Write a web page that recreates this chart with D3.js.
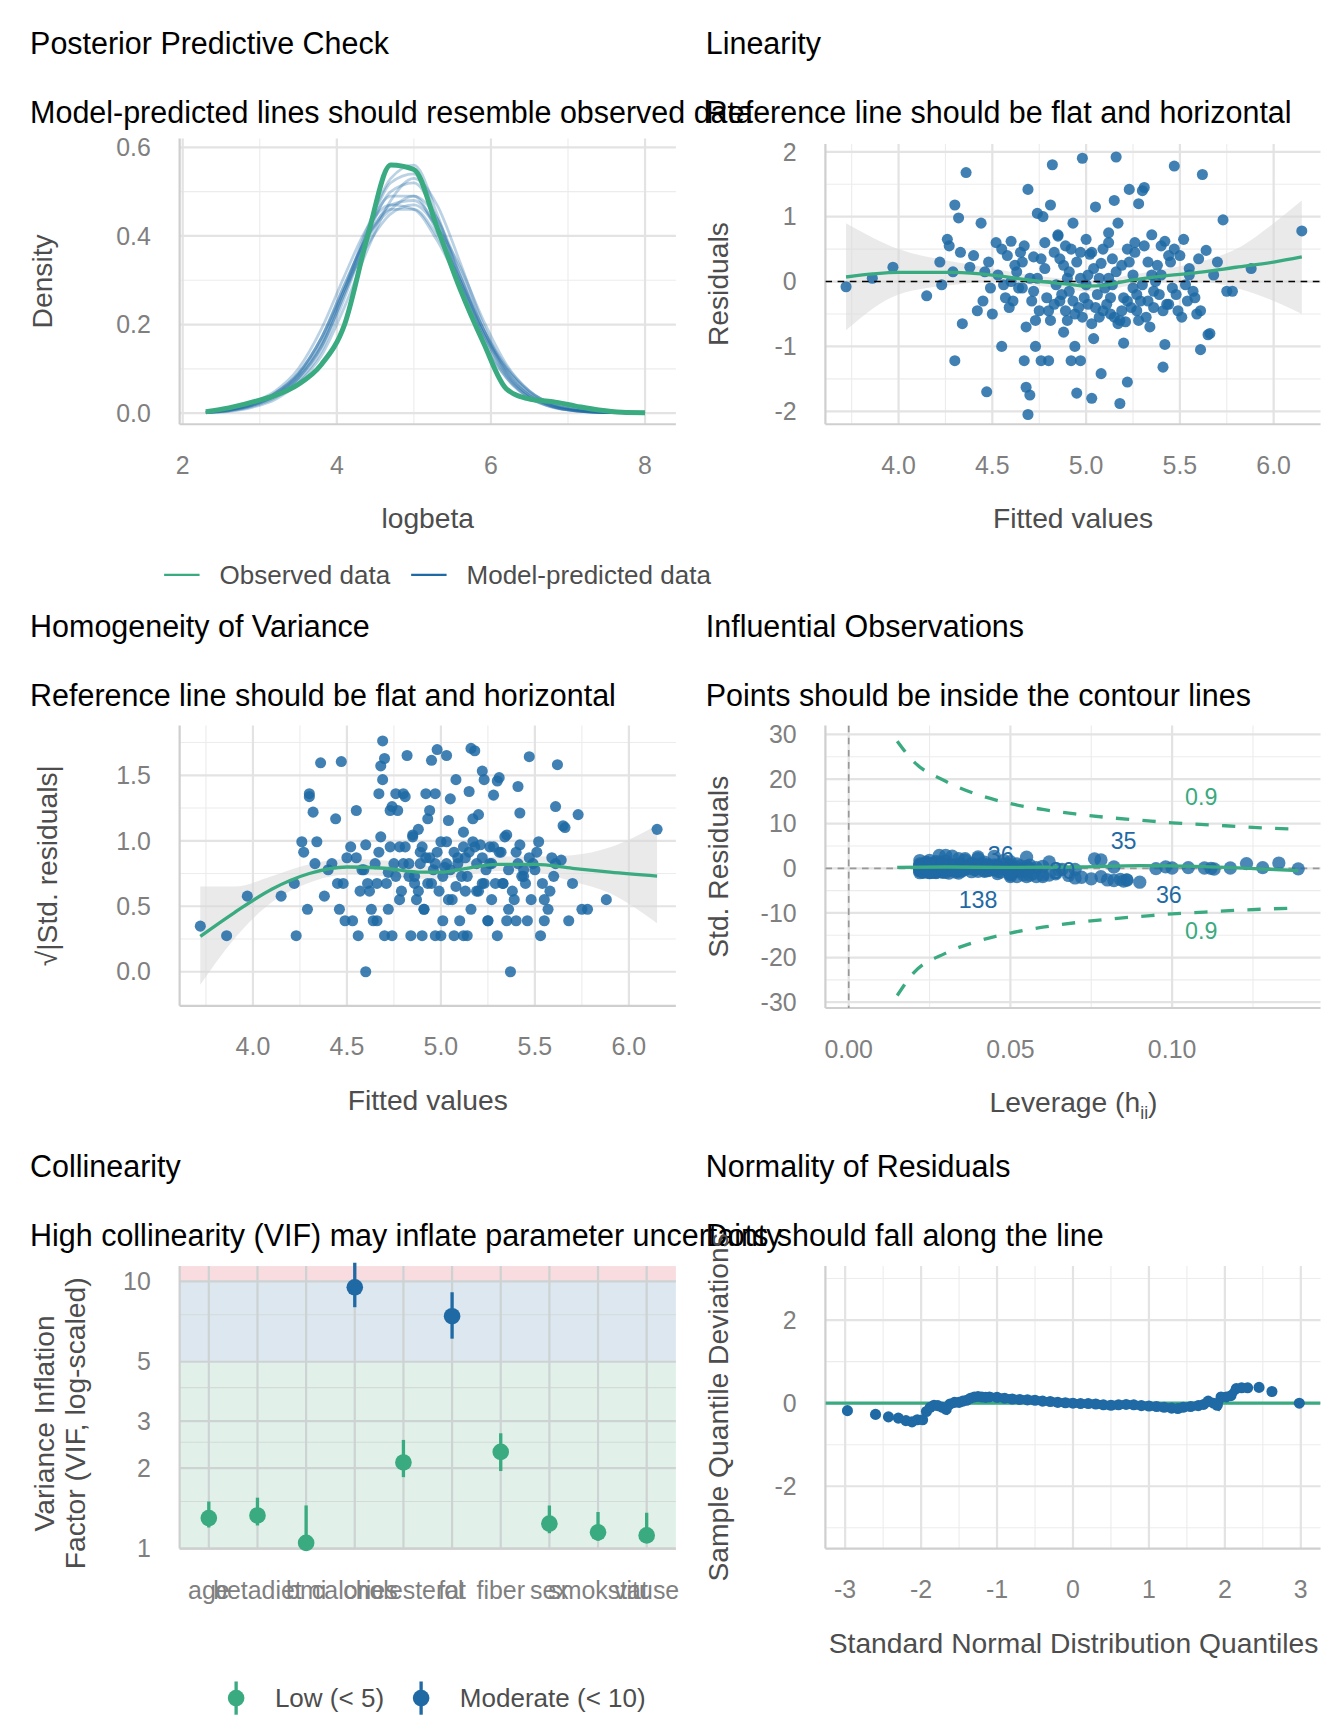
<!DOCTYPE html>
<html><head><meta charset="utf-8">
<script src="https://cdn.jsdelivr.net/npm/d3@7"></script>
<style>body{margin:0;background:#fff}text{font-family:"Liberation Sans",Arial,sans-serif}</style>
</head><body><div class="chart"></div>
<script>
// ---- data ----
const ppcX = [2.3,2.6,2.9,3.2,3.5,3.8,4.1,4.4,4.7,5.0,5.3,5.6,5.9,6.2,6.5,6.8,7.1,7.4,7.7,8.0];
const ppcObserved = [0.003,0.012,0.025,0.04,0.065,0.11,0.2,0.4,0.56,0.55,0.42,0.28,0.16,0.055,0.032,0.026,0.016,0.007,0.002,0.001];
const ppcPredicted = [
  [0.002,0.007,0.018,0.04,0.08,0.15,0.27,0.39,0.47,0.48,0.42,0.31,0.19,0.1,0.045,0.018,0.007,0.002,0.001,0],
  [0.003,0.009,0.022,0.046,0.09,0.17,0.29,0.4,0.46,0.46,0.4,0.3,0.19,0.105,0.05,0.02,0.008,0.003,0.001,0],
  [0.001,0.005,0.015,0.035,0.072,0.14,0.26,0.4,0.5,0.52,0.44,0.31,0.18,0.085,0.035,0.014,0.005,0.002,0.001,0],
  [0.002,0.008,0.02,0.045,0.09,0.17,0.28,0.38,0.45,0.47,0.42,0.33,0.21,0.11,0.05,0.02,0.008,0.002,0.001,0],
  [0.002,0.006,0.018,0.038,0.078,0.15,0.27,0.41,0.52,0.54,0.43,0.29,0.16,0.08,0.035,0.014,0.005,0.002,0.001,0],
  [0.003,0.01,0.024,0.05,0.1,0.19,0.31,0.42,0.47,0.46,0.39,0.29,0.18,0.1,0.048,0.021,0.008,0.003,0.001,0],
  [0.001,0.004,0.013,0.031,0.068,0.13,0.24,0.37,0.48,0.53,0.47,0.34,0.2,0.095,0.04,0.015,0.005,0.002,0.001,0],
  [0.002,0.007,0.019,0.042,0.085,0.16,0.28,0.41,0.49,0.49,0.41,0.3,0.18,0.09,0.04,0.016,0.006,0.002,0.001,0],
  [0.002,0.008,0.021,0.044,0.088,0.17,0.29,0.4,0.46,0.49,0.44,0.32,0.19,0.09,0.04,0.016,0.006,0.002,0.001,0],
  [0.002,0.006,0.017,0.039,0.08,0.155,0.28,0.42,0.53,0.56,0.45,0.3,0.17,0.08,0.034,0.013,0.005,0.002,0.001,0]
];
// [fitted, residual, leverage]
const obs = [
[4.36,1.68,0.040],[4.82,1.80,0.032],[4.98,1.90,0.028],[5.16,1.92,0.030],[5.47,1.78,0.045],[5.62,1.65,0.055],
[4.69,1.42,0.036],[5.23,1.42,0.034],[5.31,1.45,0.040],[4.30,1.18,0.048],[4.81,1.18,0.025],[5.05,1.15,0.022],
[4.32,0.98,0.050],[4.74,1.05,0.030],[4.77,1.00,0.027],[4.44,0.90,0.042],[5.17,0.90,0.028],[4.93,0.90,0.024],
[5.28,1.20,0.036],[5.73,0.95,0.062],[4.26,0.65,0.052],[4.27,0.55,0.050],[4.52,0.60,0.038],[4.60,0.62,0.034],
[4.67,0.55,0.031],[4.85,0.72,0.026],[5.00,0.65,0.022],[5.12,0.60,0.024],[5.35,0.72,0.038],[5.42,0.62,0.042],
[5.52,0.65,0.048],[5.64,0.48,0.056],[4.22,0.30,0.055],[4.33,0.45,0.046],[4.40,0.40,0.043],[4.48,0.30,0.040],
[4.55,0.50,0.035],[4.65,0.45,0.032],[4.72,0.38,0.029],[4.78,0.60,0.028],[4.88,0.25,0.025],[4.92,0.50,0.024],
[5.02,0.42,0.022],[5.08,0.28,0.023],[5.14,0.35,0.024],[5.22,0.50,0.027],[5.26,0.45,0.029],[5.33,0.30,0.034],
[5.40,0.55,0.040],[5.50,0.40,0.046],[5.55,0.20,0.050],[5.60,0.35,0.053],[3.72,-0.08,0.139],[3.86,0.05,0.110],
[3.97,0.22,0.098],[4.15,-0.22,0.065],[4.23,-0.05,0.056],[4.38,0.22,0.044],[4.46,0.15,0.040],[4.53,0.10,0.037],
[4.62,0.25,0.033],[4.70,0.05,0.030],[4.76,0.35,0.028],[4.84,-0.05,0.026],[4.91,0.15,0.024],[4.97,0.05,0.023],
[5.04,0.20,0.022],[5.10,-0.10,0.023],[5.19,0.25,0.026],[5.25,0.10,0.028],[5.30,-0.05,0.031],[5.38,0.25,0.037],
[5.44,-0.35,0.043],[5.58,-0.25,0.052],[5.68,0.10,0.058],[5.78,-0.15,0.070],[5.88,0.20,0.082],[6.15,0.78,0.133],
[4.57,-0.25,0.035],[4.64,-0.10,0.032],[4.71,-0.30,0.030],[4.80,-0.45,0.027],[4.87,-0.20,0.025],[4.94,-0.50,0.024],
[5.01,-0.35,0.022],[5.07,-0.55,0.023],[5.13,-0.25,0.024],[5.18,-0.60,0.026],[5.24,-0.40,0.028],[5.29,-0.30,0.031],
[5.36,-0.15,0.036],[5.41,-0.45,0.040],[5.48,-0.20,0.045],[5.54,-0.30,0.049],[5.61,-0.45,0.054],[4.50,-0.50,0.038],
[4.61,-0.30,0.033],[4.68,-0.70,0.031],[4.75,-0.45,0.029],[4.83,-0.35,0.026],[4.90,-0.60,0.025],[4.96,-0.40,0.023],
[5.03,-0.65,0.022],[5.09,-0.45,0.023],[5.15,-0.55,0.025],[5.21,-0.62,0.027],[5.27,-0.45,0.029],[5.34,-0.70,0.034],
[5.39,-0.20,0.039],[5.46,-0.10,0.044],[5.53,-0.05,0.048],[5.57,-0.15,0.051],[5.66,-0.80,0.057],[5.75,-0.15,0.066],
[4.42,-0.45,0.042],[4.49,-0.10,0.039],[4.56,-0.05,0.036],[4.66,-0.10,0.032],[4.73,-0.60,0.029],[4.79,-0.25,0.027],
[4.86,-0.30,0.025],[4.99,-0.25,0.022],[5.06,-0.20,0.023],[5.11,-0.35,0.024],[5.32,-0.55,0.033],[5.43,-0.35,0.042],
[5.51,-0.55,0.047],[5.59,-0.50,0.052],[4.30,-1.22,0.078],[4.47,-1.70,0.086],[4.69,-2.05,0.090],[4.68,-1.63,0.084],
[4.70,-1.75,0.086],[4.95,-1.72,0.080],[5.03,-1.80,0.082],[5.18,-1.88,0.085],[5.22,-1.55,0.075],[5.08,-1.42,0.070],
[5.41,-1.32,0.072],[4.67,-1.22,0.060],[4.76,-1.22,0.058],[4.80,-1.22,0.055],[4.92,-1.22,0.052],[4.97,-1.22,0.050],
[4.55,-1.00,0.062],[4.73,-1.00,0.056],[4.94,-1.00,0.050],[5.61,-1.05,0.068],[5.65,-0.82,0.064],[5.42,-0.97,0.060],
[5.20,-0.95,0.054],[5.04,-0.88,0.050],[4.88,-0.78,0.046],[4.34,-0.65,0.050],[4.45,-0.30,0.043],[5.70,0.30,0.060],
[4.29,0.15,0.052],[5.45,0.30,0.044],[5.12,0.05,0.118],[5.35,0.10,0.105],[5.00,-0.05,0.095],[4.90,0.05,0.100],
[5.25,-0.10,0.113],[4.85,0.70,0.123],[5.55,0.10,0.128],[4.60,0.00,0.112],[5.30,1.40,0.076],[5.15,1.25,0.078],
[4.58,0.40,0.034],[4.63,0.15,0.032],[4.72,-0.15,0.030],[4.78,0.20,0.028],[4.83,0.45,0.026],[4.89,-0.45,0.025],
[4.93,-0.30,0.024],[4.95,0.30,0.023],[5.01,0.10,0.022],[5.05,-0.40,0.022],[5.09,0.50,0.023],[5.13,-0.50,0.024],
[5.16,0.15,0.025],[5.20,-0.25,0.026],[5.23,0.30,0.027],[5.27,-0.20,0.029],[5.31,0.55,0.031],[5.36,-0.40,0.035],
[5.40,0.10,0.039],[5.47,0.50,0.045],[4.81,-0.60,0.027],[4.86,0.35,0.025],[4.98,-0.55,0.023],[5.07,0.05,0.022],
[5.19,-0.45,0.026],[5.28,-0.60,0.030],[4.91,-0.15,0.024],[5.03,0.45,0.022],[5.14,-0.05,0.024],[5.22,-0.30,0.027],
[4.74,0.05,0.029],[4.66,0.30,0.032],[4.59,-0.40,0.034],[5.44,0.40,0.043],[5.37,0.00,0.037],[5.49,-0.45,0.046],
[5.26,0.60,0.029],[5.12,0.75,0.024],[4.97,0.45,0.023],[4.89,0.55,0.025],[5.33,-0.30,0.033],[5.17,-0.65,0.025]
];
const sigma = 0.66;
const linX = [3.72,4.0,4.3,4.5,4.7,4.9,5.0,5.1,5.2,5.4,5.6,5.8,6.0,6.15];
const linY = [0.07,0.14,0.14,0.1,0.02,-0.04,-0.07,-0.06,0.0,0.08,0.14,0.22,0.3,0.38];
const linLo = [-0.75,-0.2,-0.05,0.0,-0.05,-0.12,-0.15,-0.14,-0.08,0.0,0.0,-0.1,-0.3,-0.5];
const linHi = [0.9,0.5,0.3,0.2,0.1,0.04,0.02,0.02,0.08,0.18,0.3,0.5,0.9,1.25];
const homX = [3.72,3.9,4.1,4.3,4.5,4.7,4.9,5.0,5.1,5.3,5.5,5.7,5.9,6.15];
const homY = [0.27,0.45,0.63,0.75,0.8,0.79,0.76,0.76,0.78,0.82,0.82,0.79,0.76,0.73];
const homLo = [-0.1,0.25,0.53,0.68,0.74,0.73,0.71,0.71,0.73,0.77,0.76,0.69,0.6,0.37];
const homHi = [0.65,0.65,0.73,0.82,0.86,0.85,0.81,0.81,0.83,0.88,0.88,0.89,0.95,1.12];
const levX = [0.015,0.02,0.03,0.04,0.05,0.06,0.07,0.08,0.09,0.10,0.11,0.12,0.13,0.139];
const levUpper = [28.5,24,19.5,16.5,14.5,13.2,12.2,11.4,10.8,10.2,9.8,9.4,9.0,8.8];
const levLower = [-28.5,-23.5,-19,-16.3,-14.5,-13.2,-12.2,-11.4,-10.8,-10.2,-9.8,-9.4,-9.1,-8.9];
const levSmoothX = [0.015,0.03,0.05,0.07,0.09,0.11,0.13,0.139];
const levSmoothY = [0.2,0.3,0.2,0.3,0.6,0.4,-0.2,-0.5];
const levLabels = [["35",0.085,6.2],["36",0.099,-6],["138",0.04,-7],["36",0.047,3],["30",0.066,-0.5]];
const vifTerms = ["age","betadiet","bmi","calories","cholesterol","fat","fiber","sex","smokstat","vituse"];
const vifValue = [1.3,1.33,1.05,9.5,2.1,7.4,2.3,1.24,1.15,1.12];
const vifLow = [1.2,1.22,0.98,8.0,1.85,6.1,1.95,1.14,1.07,1.05];
const vifHigh = [1.5,1.55,1.45,11.8,2.55,9.1,2.7,1.45,1.37,1.36];
const qqX = [-2.97,-2.6,-2.43,-2.3,-2.2,-2.12,-2.05,-1.98,-1.93,-1.88,-1.83,-1.78,-1.72,-1.67,-1.62,-1.56,-1.5,-1.45,-1.4,-1.35,-1.3,-1.25,-1.2,-1.15,-1.1,-1.0,-0.9,-0.8,-0.7,-0.6,-0.5,-0.4,-0.3,-0.2,-0.1,0,0.1,0.2,0.3,0.4,0.5,0.6,0.7,0.8,0.9,1.0,1.1,1.2,1.3,1.38,1.45,1.55,1.65,1.72,1.78,1.85,1.9,1.95,2.02,2.08,2.15,2.22,2.3,2.45,2.62,2.98];
const qqY = [-0.18,-0.27,-0.33,-0.36,-0.42,-0.45,-0.4,-0.4,-0.2,-0.1,-0.05,-0.06,-0.1,-0.15,-0.02,0.02,0.02,0.05,0.07,0.12,0.15,0.16,0.15,0.14,0.15,0.14,0.12,0.1,0.09,0.08,0.07,0.05,0.04,0.02,0.01,0.0,-0.01,-0.01,-0.02,-0.04,-0.05,-0.04,-0.03,-0.04,-0.06,-0.07,-0.08,-0.1,-0.12,-0.13,-0.1,-0.08,-0.06,-0.03,0.05,0.0,-0.05,0.15,0.15,0.18,0.35,0.37,0.37,0.38,0.28,0.0];

const green = "#3aaa80", blue = "#1f6aa5";
const W = 1213, H = 1560;
const svg = d3.select(".chart").append("svg").attr("width", 1344).attr("height", 1728)
  .attr("viewBox", `0 0 ${W} ${H}`);
const defs = svg.append("defs");

function header(x, y, title, sub) {
  svg.append("text").attr("x", x).attr("y", y + 10).attr("font-size", 27.5).attr("fill", "#000").text(title);
  svg.append("text").attr("x", x).attr("y", y + 72).attr("font-size", 27.5).attr("fill", "#000").text(sub);
}

let clipId = 0;
function panel(c) {
  const g = svg.append("g");
  const xs = c.xs, ys = c.ys;
  const [x0, x1] = xs.range(), [y1, y0] = ys.range();
  (c.yMinor || []).forEach(v => g.append("line").attr("x1", x0).attr("x2", x1).attr("y1", ys(v)).attr("y2", ys(v)).attr("stroke", "#ececec").attr("stroke-width", 1));
  (c.xMinor || []).forEach(v => g.append("line").attr("y1", y0).attr("y2", y1).attr("x1", xs(v)).attr("x2", xs(v)).attr("stroke", "#ececec").attr("stroke-width", 1));
  c.yMajor.forEach(v => g.append("line").attr("x1", x0).attr("x2", x1).attr("y1", ys(v)).attr("y2", ys(v)).attr("stroke", "#e3e3e3").attr("stroke-width", 2));
  c.xMajor.forEach(v => g.append("line").attr("y1", y0).attr("y2", y1).attr("x1", xs(v)).attr("x2", xs(v)).attr("stroke", "#e3e3e3").attr("stroke-width", 2));
  g.append("line").attr("x1", x0).attr("x2", x0).attr("y1", y0).attr("y2", y1).attr("stroke", "#cfcfcf").attr("stroke-width", 2);
  g.append("line").attr("x1", x0).attr("x2", x1).attr("y1", y1).attr("y2", y1).attr("stroke", "#cfcfcf").attr("stroke-width", 2);
  c.yMajor.forEach(v => g.append("text").attr("x", x0 - 26).attr("y", ys(v)).attr("dy", "0.35em").attr("text-anchor", "end")
    .attr("font-size", 22.5).attr("fill", "#7f7f7f").text(c.yFmt ? c.yFmt(v) : v));
  c.xMajor.forEach(v => g.append("text").attr("x", xs(v)).attr("y", y1 + 37).attr("dy", "0.35em").attr("text-anchor", "middle")
    .attr("font-size", 22.5).attr("fill", "#7f7f7f").text(c.xFmt ? c.xFmt(v) : v));
  const id = "clip" + (clipId++);
  defs.append("clipPath").attr("id", id).append("rect").attr("x", x0).attr("y", y0).attr("width", x1 - x0).attr("height", y1 - y0);
  const plot = svg.append("g").attr("clip-path", `url(#${id})`);
  if (c.xTitle) svg.append("text").attr("x", (x0 + x1) / 2).attr("y", y1 + 85).attr("text-anchor", "middle").attr("dy", "0.35em").attr("font-size", 25.5).attr("fill", "#4d4d4d").text(c.xTitle);
  if (c.yTitle) svg.append("text").attr("transform", `translate(${c.yTitleX},${(y0 + y1) / 2}) rotate(-90)`).attr("text-anchor", "middle")
    .attr("dy", "0.35em").attr("font-size", 25.5).attr("fill", "#4d4d4d").text(c.yTitle);
  return plot;
}
const f1 = d3.format(".1f"), f2 = d3.format(".2f");
const idx = a => a.map((_, i) => i);

// ---- Posterior predictive check ----
header(27, 39, "Posterior Predictive Check", "Model-predicted lines should resemble observed data");
{
  const xs = d3.scaleLinear().domain([1.96, 8.4]).range([162, 610]);
  const ys = d3.scaleLinear().domain([-0.025, 0.62]).range([383, 125]);
  const p = panel({xs, ys, xMajor: [2,4,6,8], xMinor: [3,5,7], yMajor: [0,0.2,0.4,0.6], yMinor: [0.1,0.3,0.5], yFmt: f1,
    xTitle: "logbeta", yTitle: "Density", yTitleX: 38});
  const line = d3.line().x(i => xs(ppcX[i])).curve(d3.curveMonotoneX);
  ppcPredicted.forEach(s => p.append("path").attr("d", line.y(i => ys(s[i]))(idx(ppcX)))
    .attr("fill", "none").attr("stroke", blue).attr("stroke-opacity", 0.3).attr("stroke-width", 2.5));
  p.append("path").attr("d", line.y(i => ys(ppcObserved[i]))(idx(ppcX))).attr("fill", "none").attr("stroke", green).attr("stroke-width", 4.5);
  const lg = svg.append("g");
  [[148, green, "Observed data"], [371, blue, "Model-predicted data"]].forEach(([x, col, t]) => {
    lg.append("line").attr("x1", x).attr("x2", x + 32).attr("y1", 519).attr("y2", 519).attr("stroke", col).attr("stroke-width", 2);
    lg.append("text").attr("x", x + 50).attr("y", 519).attr("dy", "0.35em").attr("font-size", 23.5).attr("fill", "#4d4d4d").text(t);
  });
}

// ---- Linearity ----
header(637, 39, "Linearity", "Reference line should be flat and horizontal");
{
  const xs = d3.scaleLinear().domain([3.61, 6.25]).range([745, 1192]);
  const ys = d3.scaleLinear().domain([-2.2, 2.12]).range([383, 130]);
  const p = panel({xs, ys, xMajor: [4,4.5,5,5.5,6], xMinor: [3.75,4.25,4.75,5.25,5.75], yMajor: [-2,-1,0,1,2], yMinor: [-1.5,-0.5,0.5,1.5],
    xFmt: f1, xTitle: "Fitted values", yTitle: "Residuals", yTitleX: 648});
  p.append("path").attr("d", d3.area().x(i => xs(linX[i])).y0(i => ys(linLo[i])).y1(i => ys(linHi[i])).curve(d3.curveMonotoneX)(idx(linX)))
    .attr("fill", "#d9d9d9").attr("fill-opacity", 0.55);
  p.selectAll(".pt").data(obs).join("circle").attr("cx", d => xs(d[0])).attr("cy", d => ys(d[1])).attr("r", 5)
    .attr("fill", blue).attr("fill-opacity", 0.85);
  p.append("line").attr("x1", 745).attr("x2", 1192).attr("y1", ys(0)).attr("y2", ys(0)).attr("stroke", "#000").attr("stroke-width", 1.5).attr("stroke-dasharray", "6,5");
  p.append("path").attr("d", d3.line().x(i => xs(linX[i])).y(i => ys(linY[i])).curve(d3.curveMonotoneX)(idx(linX)))
    .attr("fill", "none").attr("stroke", green).attr("stroke-width", 3);
}

// ---- Homogeneity ----
header(27, 565, "Homogeneity of Variance", "Reference line should be flat and horizontal");
{
  const xs = d3.scaleLinear().domain([3.61, 6.25]).range([162, 610]);
  const ys = d3.scaleLinear().domain([-0.26, 1.88]).range([908, 655]);
  const p = panel({xs, ys, xMajor: [4,4.5,5,5.5,6], xMinor: [3.75,4.25,4.75,5.25,5.75], yMajor: [0,0.5,1,1.5], yMinor: [0.25,0.75,1.25,1.75],
    xFmt: f1, yFmt: f1, xTitle: "Fitted values", yTitle: "√|Std. residuals|", yTitleX: 42});
  p.append("path").attr("d", d3.area().x(i => xs(homX[i])).y0(i => ys(homLo[i])).y1(i => ys(homHi[i])).curve(d3.curveMonotoneX)(idx(homX)))
    .attr("fill", "#d9d9d9").attr("fill-opacity", 0.55);
  p.selectAll(".pt").data(obs).join("circle").attr("cx", d => xs(d[0])).attr("cy", d => ys(Math.sqrt(Math.abs(d[1]) / sigma))).attr("r", 5)
    .attr("fill", blue).attr("fill-opacity", 0.85);
  p.append("path").attr("d", d3.line().x(i => xs(homX[i])).y(i => ys(homY[i])).curve(d3.curveMonotoneX)(idx(homX)))
    .attr("fill", "none").attr("stroke", green).attr("stroke-width", 3);
}

// ---- Influential observations ----
header(637, 565, "Influential Observations", "Points should be inside the contour lines");
{
  const xs = d3.scaleLinear().domain([-0.0072, 0.1459]).range([745, 1192]);
  const ys = d3.scaleLinear().domain([-31.3, 32]).range([910, 655]);
  const p = panel({xs, ys, xMajor: [0,0.05,0.1], xMinor: [0.025,0.075,0.125], yMajor: [-30,-20,-10,0,10,20,30], yMinor: [-25,-15,-5,5,15,25],
    xFmt: f2, xTitle: null, yTitle: "Std. Residuals", yTitleX: 648});
  svg.append("text").attr("x", 969).attr("y", 995).attr("text-anchor", "middle").attr("dy", "0.35em").attr("font-size", 25.5).attr("fill", "#4d4d4d")
    .html('Leverage (h<tspan font-size="16" dy="6">ii</tspan><tspan dy="-6">)</tspan>');
  p.append("line").attr("x1", xs(0)).attr("x2", xs(0)).attr("y1", 655).attr("y2", 910).attr("stroke", "#999").attr("stroke-width", 1.5).attr("stroke-dasharray", "6,5");
  p.append("line").attr("x1", 745).attr("x2", 1192).attr("y1", ys(0)).attr("y2", ys(0)).attr("stroke", "#999").attr("stroke-width", 1.5).attr("stroke-dasharray", "6,5");
  const cl = d3.line().x(i => xs(levX[i])).curve(d3.curveMonotoneX);
  [levUpper, levLower].forEach(s => p.append("path").attr("d", cl.y(i => ys(s[i]))(idx(levX)))
    .attr("fill", "none").attr("stroke", green).attr("stroke-width", 3).attr("stroke-dasharray", "12,12"));
  p.selectAll(".pt").data(obs).join("circle").attr("cx", d => xs(d[2])).attr("cy", d => ys(d[1] / sigma)).attr("r", 6)
    .attr("fill", blue).attr("fill-opacity", 0.8);
  p.append("path").attr("d", d3.line().x(i => xs(levSmoothX[i])).y(i => ys(levSmoothY[i])).curve(d3.curveMonotoneX)(idx(levSmoothX)))
    .attr("fill", "none").attr("stroke", green).attr("stroke-width", 3);
  levLabels.forEach(([t, x, y]) => p.append("text").attr("x", xs(x)).attr("y", ys(y)).attr("dy", "0.35em").attr("text-anchor", "middle")
    .attr("font-size", 21).attr("fill", blue).text(t));
  [16, -14].forEach(y => p.append("text").attr("x", xs(0.109)).attr("y", ys(y)).attr("dy", "0.35em").attr("text-anchor", "middle")
    .attr("font-size", 21).attr("fill", green).text("0.9"));
}

// ---- Collinearity ----
header(27, 1053, "Collinearity", "High collinearity (VIF) may inflate parameter uncertainty");
{
  const xs = d3.scalePoint().domain(vifTerms).range([162, 610]).padding(0.6);
  const ys = d3.scaleLog().domain([1, 11.4]).range([1398, 1143]);
  const bg = svg.append("g");
  [[1, 5, "#e1f1ea"], [5, 10, "#dce7f0"], [10, 11.4, "#f8dcdf"]].forEach(([a, b, col]) =>
    bg.append("rect").attr("x", 162).attr("width", 448).attr("y", ys(b)).attr("height", ys(a) - ys(b)).attr("fill", col));
  const g = svg.append("g");
  [1.5, 2.5, 4, 7.5].forEach(v => g.append("line").attr("x1", 162).attr("x2", 610).attr("y1", ys(v)).attr("y2", ys(v)).attr("stroke", "#d3dad8").attr("stroke-width", 1));
  [1, 2, 3, 5, 10].forEach(v => g.append("line").attr("x1", 162).attr("x2", 610).attr("y1", ys(v)).attr("y2", ys(v)).attr("stroke", "#cdd3d3").attr("stroke-width", 2));
  vifTerms.forEach(t => g.append("line").attr("x1", xs(t)).attr("x2", xs(t)).attr("y1", 1143).attr("y2", 1398).attr("stroke", "#cdd3d3").attr("stroke-width", 2));
  g.append("line").attr("x1", 162).attr("x2", 162).attr("y1", 1143).attr("y2", 1398).attr("stroke", "#cfcfcf").attr("stroke-width", 2);
  g.append("line").attr("x1", 162).attr("x2", 610).attr("y1", 1398).attr("y2", 1398).attr("stroke", "#cfcfcf").attr("stroke-width", 2);
  [1, 2, 3, 5, 10].forEach(v => g.append("text").attr("x", 136).attr("y", ys(v)).attr("dy", "0.35em").attr("text-anchor", "end")
    .attr("font-size", 22.5).attr("fill", "#7f7f7f").text(v));
  vifTerms.forEach(t => g.append("text").attr("x", xs(t)).attr("y", 1436).attr("dy", "0.35em").attr("text-anchor", "middle")
    .attr("font-size", 22.5).attr("fill", "#7f7f7f").text(t));
  defs.append("clipPath").attr("id", "clipVif").append("rect").attr("x", 162).attr("y", 1140).attr("width", 448).attr("height", 262);
  const p = svg.append("g").attr("clip-path", "url(#clipVif)");
  vifTerms.forEach((t, i) => {
    const col = vifValue[i] < 5 ? green : blue;
    p.append("line").attr("x1", xs(t)).attr("x2", xs(t)).attr("y1", ys(vifLow[i])).attr("y2", ys(vifHigh[i])).attr("stroke", col).attr("stroke-width", 3);
    p.append("circle").attr("cx", xs(t)).attr("cy", ys(vifValue[i])).attr("r", 7.5).attr("fill", col);
  });
  const yt = svg.append("text").attr("transform", "translate(40,1285) rotate(-90)").attr("text-anchor", "middle").attr("font-size", 25.5).attr("fill", "#4d4d4d");
  yt.append("tspan").attr("x", 0).attr("dy", "0.35em").text("Variance Inflation");
  yt.append("tspan").attr("x", 0).attr("dy", "1.1em").text("Factor (VIF, log-scaled)");
  [[213, green, "Low (< 5)"], [380, blue, "Moderate (< 10)"]].forEach(([x, col, t]) => {
    svg.append("line").attr("x1", x).attr("x2", x).attr("y1", 1518).attr("y2", 1548).attr("stroke", col).attr("stroke-width", 3);
    svg.append("circle").attr("cx", x).attr("cy", 1533).attr("r", 7.5).attr("fill", col);
    svg.append("text").attr("x", x + 35).attr("y", 1533).attr("dy", "0.35em").attr("font-size", 23.5).attr("fill", "#4d4d4d").text(t);
  });
}

// ---- Normality of residuals ----
header(637, 1053, "Normality of Residuals", "Dots should fall along the line");
{
  const xs = d3.scaleLinear().domain([-3.26, 3.26]).range([745, 1192]);
  const ys = d3.scaleLinear().domain([-3.5, 3.3]).range([1398, 1143]);
  const p = panel({xs, ys, xMajor: [-3,-2,-1,0,1,2,3], xMinor: [-2.5,-1.5,-0.5,0.5,1.5,2.5], yMajor: [-2,0,2], yMinor: [-3,-1,1,3],
    xTitle: null, yTitle: "Sample Quantile Deviations", yTitleX: 648});
  svg.append("text").attr("x", 969).attr("y", 1483).attr("text-anchor", "middle").attr("dy", "0.35em").attr("font-size", 25.5).attr("fill", "#4d4d4d")
    .text("Standard Normal Distribution Quantiles");
  p.append("line").attr("x1", 745).attr("x2", 1192).attr("y1", ys(0)).attr("y2", ys(0)).attr("stroke", green).attr("stroke-width", 3);
  p.selectAll(".pt").data(idx(qqX)).join("circle").attr("cx", i => xs(qqX[i])).attr("cy", i => ys(qqY[i])).attr("r", 5).attr("fill", blue);
  p.append("path").attr("d", d3.line().x(i => xs(qqX[i])).y(i => ys(qqY[i]))(idx(qqX).slice(8, 63)))
    .attr("fill", "none").attr("stroke", blue).attr("stroke-width", 8).attr("stroke-linecap", "round");
}
</script></body></html>
